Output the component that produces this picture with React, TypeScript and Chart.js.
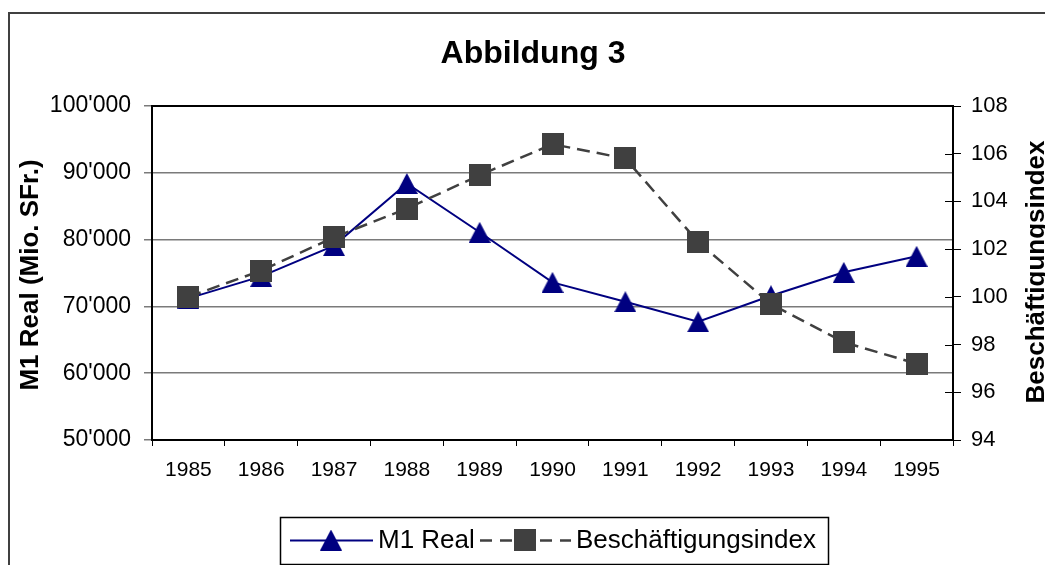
import React, { useEffect, useRef } from "react";
import { Chart, registerables } from "chart.js";

Chart.register(...registerables);

// ---- data ----
const years = ["1985", "1986", "1987", "1988", "1989", "1990", "1991", "1992", "1993", "1994", "1995"];
const m1Real = [71200, 74500, 79100, 88400, 81100, 73600, 70700, 67700, 71600, 75100, 77500];
const beschIndex = [100.0, 101.1, 102.5, 103.7, 105.1, 106.4, 105.8, 102.3, 99.7, 98.1, 97.2];
const leftAxisRange = [50000, 100000, 10000];
const rightAxisRange = [94, 108, 2];
const seriesNames = ["M1 Real", "Beschäftigungsindex"];
const chartTitle = "Abbildung 3";
const leftAxisTitle = "M1 Real (Mio. SFr.)";
const rightAxisTitle = "Beschäftigungsindex";

const FONT = "'Liberation Sans', Arial, sans-serif";
const NAVY = "#000080";
const DARK = "#404040";

function fmtThousands(v: number): string {
  return String(Math.round(v)).replace(/\B(?=(\d{3})+(?!\d))/g, "'");
}

function makeTriangle(): HTMLCanvasElement {
  const c = document.createElement("canvas");
  c.width = 22;
  c.height = 21;
  const g = c.getContext("2d")!;
  g.fillStyle = NAVY;
  g.beginPath();
  g.moveTo(0, 21);
  g.lineTo(11, 0);
  g.lineTo(22, 21);
  g.closePath();
  g.fill();
  return c;
}

function makeSquare(): HTMLCanvasElement {
  const c = document.createElement("canvas");
  c.width = 22;
  c.height = 22;
  const g = c.getContext("2d")!;
  g.fillStyle = DARK;
  g.fillRect(0, 0, 22, 22);
  return c;
}

export default function App() {
  const ref = useRef<HTMLCanvasElement | null>(null);

  useEffect(() => {
    if (!ref.current) return;
    const tri = makeTriangle();
    const sq = makeSquare();

    const deco = {
      id: "deco",
      beforeDraw(chart: any) {
        const ctx = chart.ctx as CanvasRenderingContext2D;
        ctx.save();
        ctx.fillStyle = "#fff";
        ctx.fillRect(0, 0, chart.width, chart.height);
        ctx.strokeStyle = "#404040";
        ctx.lineWidth = 2;
        ctx.strokeRect(9, 13, chart.width + 20, chart.height + 20);
        ctx.fillStyle = "#000";
        ctx.font = `bold 32px ${FONT}`;
        ctx.textAlign = "center";
        ctx.textBaseline = "alphabetic";
        ctx.fillText(chartTitle, 533, 63);
        ctx.font = `bold 26px ${FONT}`;
        ctx.save();
        ctx.translate(38, 275);
        ctx.rotate(-Math.PI / 2);
        ctx.fillText(leftAxisTitle, 0, 0);
        ctx.restore();
        ctx.save();
        ctx.translate(1044, 272);
        ctx.rotate(-Math.PI / 2);
        ctx.fillText(rightAxisTitle, 0, 0);
        ctx.restore();
        ctx.restore();
      },
      beforeDatasetsDraw(chart: any) {
        const ctx = chart.ctx as CanvasRenderingContext2D;
        const a = chart.chartArea;
        ctx.save();
        ctx.strokeStyle = "#000";
        ctx.lineWidth = 2;
        ctx.beginPath();
        ctx.moveTo(a.left - 1, a.top);
        ctx.lineTo(a.right + 1, a.top);
        ctx.stroke();
        const s = chart.scales.y1;
        ctx.lineWidth = 1;
        for (let v = rightAxisRange[0]; v < rightAxisRange[1]; v += rightAxisRange[2]) {
          const y = Math.round(s.getPixelForValue(v)) + 0.5;
          ctx.beginPath();
          ctx.moveTo(a.right - 8, y);
          ctx.lineTo(a.right, y);
          ctx.stroke();
        }
        ctx.restore();
      },
      afterDraw(chart: any) {
        const ctx = chart.ctx as CanvasRenderingContext2D;
        ctx.save();
        ctx.strokeStyle = "#000";
        ctx.lineWidth = 1.5;
        ctx.strokeRect(280.5, 517.5, 548, 47);
        // item 1
        ctx.strokeStyle = NAVY;
        ctx.lineWidth = 2;
        ctx.beginPath();
        ctx.moveTo(290, 540.5);
        ctx.lineTo(373, 540.5);
        ctx.stroke();
        ctx.drawImage(tri, 331 - 11, 540 - 10.5);
        ctx.fillStyle = "#000";
        ctx.font = `26px ${FONT}`;
        ctx.textAlign = "left";
        ctx.textBaseline = "alphabetic";
        ctx.fillText(seriesNames[0], 378, 548);
        // item 2
        ctx.strokeStyle = DARK;
        ctx.lineWidth = 2.5;
        ctx.setLineDash([12, 8]);
        ctx.beginPath();
        ctx.moveTo(480, 540.5);
        ctx.lineTo(571, 540.5);
        ctx.stroke();
        ctx.setLineDash([]);
        ctx.drawImage(sq, 525 - 11, 540 - 11);
        ctx.fillText(seriesNames[1], 576, 548);
        ctx.restore();
      },
    };

    const chart = new Chart(ref.current, {
      type: "line",
      data: {
        labels: years,
        datasets: [
          {
            label: seriesNames[0],
            data: m1Real,
            yAxisID: "y",
            borderColor: NAVY,
            backgroundColor: NAVY,
            borderWidth: 2,
            pointStyle: tri as any,
            pointRadius: 11,
            tension: 0,
            order: 2,
          },
          {
            label: seriesNames[1],
            data: beschIndex,
            yAxisID: "y1",
            borderColor: DARK,
            backgroundColor: DARK,
            borderWidth: 2.5,
            borderDash: [13, 7],
            pointStyle: sq as any,
            pointRadius: 11,
            tension: 0,
            order: 1,
          },
        ],
      },
      options: {
        responsive: false,
        animation: false,
        layout: { padding: { top: 106, left: 0, right: 0, bottom: 0 } },
        plugins: {
          legend: { display: false },
          title: { display: false },
          tooltip: { enabled: false },
        },
        scales: {
          x: {
            type: "category",
            offset: true,
            grid: {
              offset: true,
              drawOnChartArea: false,
              drawTicks: true,
              tickLength: 6,
              color: "#000",
              lineWidth: 1,
            },
            border: { color: "#000", width: 2 },
            ticks: {
              color: "#000",
              font: { family: FONT, size: 21 },
              padding: 12,
              maxRotation: 0,
              autoSkip: false,
            },
            afterFit: (s: any) => {
              s.height = 125;
            },
          },
          y: {
            type: "linear",
            position: "left",
            min: leftAxisRange[0],
            max: leftAxisRange[1],
            grid: {
              color: "#7a7a7a",
              lineWidth: 1.5,
              drawTicks: true,
              tickLength: 8,
            },
            border: { color: "#000", width: 2 },
            ticks: {
              stepSize: leftAxisRange[2],
              color: "#000",
              font: { family: FONT, size: 23 },
              padding: 13,
              callback: (v: any) => fmtThousands(Number(v)),
            },
            afterFit: (s: any) => {
              s.width = 152;
            },
          },
          y1: {
            type: "linear",
            position: "right",
            min: rightAxisRange[0],
            max: rightAxisRange[1],
            grid: {
              drawOnChartArea: false,
              drawTicks: true,
              tickLength: 8,
              color: "#000",
              lineWidth: 1,
            },
            border: { color: "#000", width: 2 },
            ticks: {
              stepSize: rightAxisRange[2],
              color: "#000",
              font: { family: FONT, size: 22 },
              padding: 10,
            },
            afterFit: (s: any) => {
              s.width = 92;
            },
          },
        },
      },
      plugins: [deco],
    } as any);

    return () => chart.destroy();
  }, []);

  return (
    <div
      style={{
        position: "fixed",
        left: 0,
        top: 0,
        width: 1045,
        height: 565,
        background: "#fff",
        overflow: "hidden",
      }}
    >
      <canvas ref={ref} width={1045} height={565} style={{ width: 1045, height: 565, display: "block" }} />
    </div>
  );
}
